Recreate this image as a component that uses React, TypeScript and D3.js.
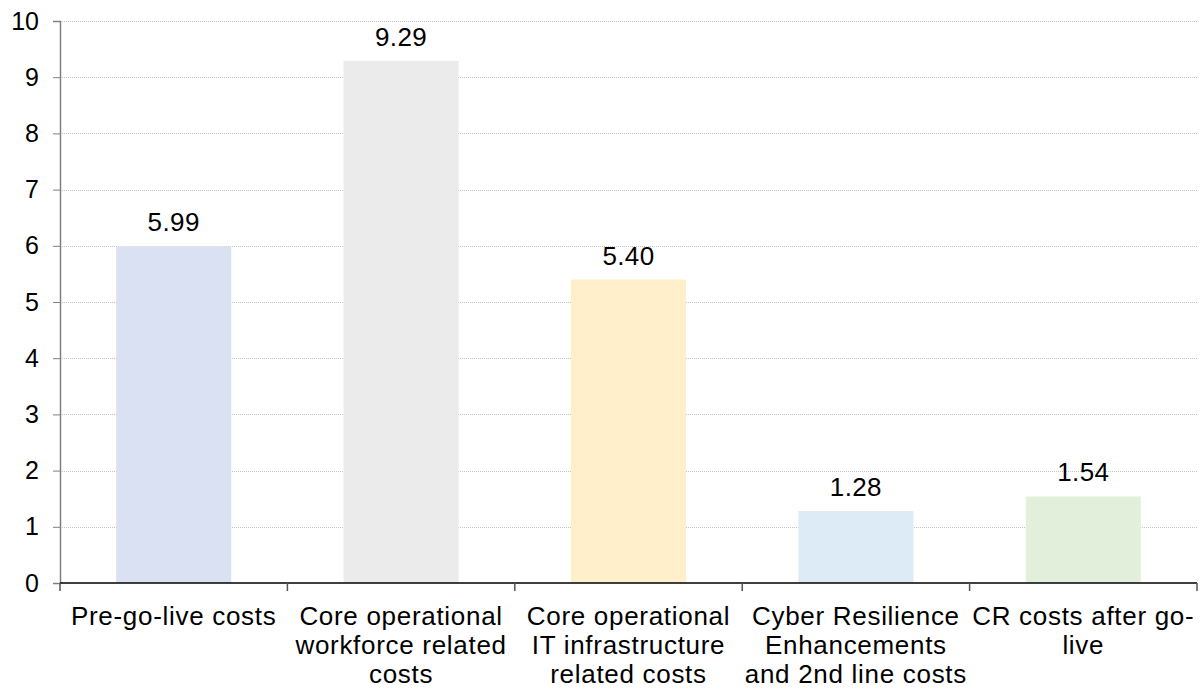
import { useEffect, useRef } from 'react';
import * as d3 from 'd3';

// chart data
const categories = [
    'Pre-go-live costs',
    'Core operational workforce related costs',
    'Core operational IT infrastructure related costs',
    'Cyber Resilience Enhancements and 2nd line costs',
    'CR costs after go-live',
];
const categoryLines = [
    ['Pre-go-live costs'],
    ['Core operational', 'workforce related', 'costs'],
    ['Core operational', 'IT infrastructure', 'related costs'],
    ['Cyber Resilience', 'Enhancements', 'and 2nd line costs'],
    ['CR costs after go-', 'live'],
];
const values = [5.99, 9.29, 5.40, 1.28, 1.54];
const barColors = ['#D9E1F2', '#EBEBEB', '#FFF0CB', '#DDEBF7', '#E2EFDA'];
const yTicks = [0, 1, 2, 3, 4, 5, 6, 7, 8, 9, 10];

const FONT = 'Arial, "Liberation Sans", sans-serif';

const App = () => {
    const svgRef = useRef<SVGSVGElement>(null);

    useEffect(() => {
        if (!svgRef.current) return;
        d3.select(svgRef.current).selectAll('*').remove();

        const W = 1201;
        const H = 692;
        const margin = { top: 21, right: 4, bottom: 109, left: 60 };
        const width = W - margin.left - margin.right;
        const height = H - margin.top - margin.bottom;

        const svg = d3.select(svgRef.current)
            .attr('width', W)
            .attr('height', H);

        svg.append('rect').attr('width', W).attr('height', H).attr('fill', '#ffffff');

        const g = svg.append('g')
            .attr('transform', `translate(${margin.left},${margin.top})`);

        const xScale = d3.scaleBand<string>()
            .domain(categories)
            .range([0, width])
            .paddingInner(0.494)
            .paddingOuter(0.247);

        const yScale = d3.scaleLinear()
            .domain([0, 10])
            .range([height, 0]);

        // gridlines
        g.append('g')
            .selectAll('line')
            .data(yTicks.filter(t => t > 0))
            .join('line')
            .attr('x1', 0)
            .attr('x2', width)
            .attr('y1', d => Math.round(yScale(d)) + 0.5)
            .attr('y2', d => Math.round(yScale(d)) + 0.5)
            .attr('stroke', '#c4c4c4')
            .attr('stroke-width', 1)
            .attr('stroke-dasharray', '1,1');

        // bars
        g.selectAll('rect.bar')
            .data(values)
            .join('rect')
            .attr('class', 'bar')
            .attr('x', (_, i) => xScale(categories[i])!)
            .attr('y', d => yScale(d))
            .attr('width', xScale.bandwidth())
            .attr('height', d => height - yScale(d))
            .attr('fill', (_, i) => barColors[i]);

        // value labels
        g.selectAll('text.val')
            .data(values)
            .join('text')
            .attr('class', 'val')
            .attr('x', (_, i) => xScale(categories[i])! + xScale.bandwidth() / 2)
            .attr('y', d => yScale(d) - 15)
            .attr('text-anchor', 'middle')
            .style('font-family', FONT)
            .style('font-size', '26px')
            .style('letter-spacing', '0.4px')
            .style('fill', '#000')
            .text(d => d.toFixed(2));

        // y axis
        const yAxis = g.append('g')
            .call(d3.axisLeft(yScale).tickValues(yTicks).tickSize(7).tickPadding(14).tickFormat(d3.format('d')));
        yAxis.select('.domain').attr('stroke', '#7f7f7f').attr('stroke-width', 1.5);
        yAxis.selectAll('.tick line').attr('stroke', '#7f7f7f');
        yAxis.selectAll('.tick text')
            .style('font-family', FONT)
            .style('font-size', '25px')
            .style('fill', '#000');

        // x axis
        const step = xScale.step();
        const boundaries = d3.range(categories.length + 1).map(i => i * step);
        const xg = g.append('g').attr('transform', `translate(0,${height})`);
        xg.append('line')
            .attr('x1', 0)
            .attr('x2', width)
            .attr('y1', 0)
            .attr('y2', 0)
            .attr('stroke', '#000')
            .attr('stroke-width', 1.5);
        xg.selectAll('line.tick')
            .data(boundaries)
            .join('line')
            .attr('class', 'tick')
            .attr('x1', d => d)
            .attr('x2', d => d)
            .attr('y1', 0)
            .attr('y2', 8)
            .attr('stroke', '#555')
            .attr('stroke-width', 1.5);

        // category labels
        categoryLines.forEach((lines, i) => {
            const cx = xScale(categories[i])! + xScale.bandwidth() / 2;
            const t = xg.append('text')
                .attr('text-anchor', 'middle')
                .style('font-family', FONT)
                .style('font-size', '26px')
                .style('letter-spacing', '0.7px')
                .style('fill', '#000');
            lines.forEach((ln, j) => {
                t.append('tspan')
                    .attr('x', cx)
                    .attr('y', 42 + j * 29)
                    .text(ln);
            });
        });
    }, []);

    return (
        <div style={{ position: 'absolute', left: 0, top: 0 }}>
            <svg ref={svgRef} style={{ display: 'block' }}></svg>
        </div>
    );
};

export default App;
